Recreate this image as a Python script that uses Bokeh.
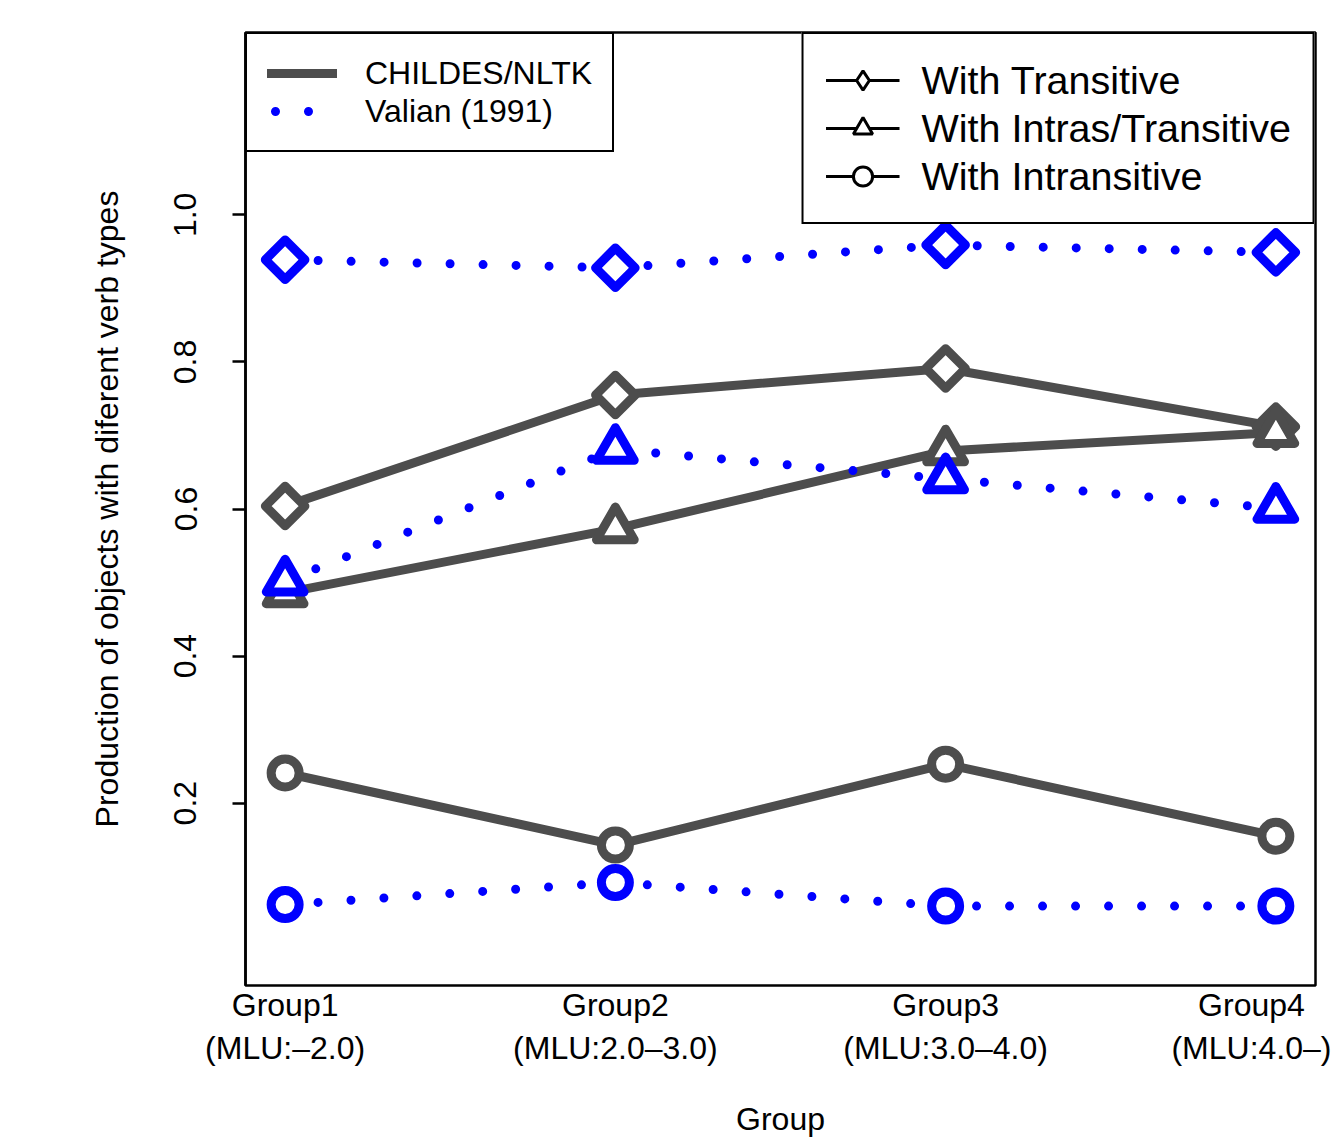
import numpy as np
from bokeh.plotting import figure
from bokeh.models import Range1d, FixedTicker, Legend, LegendItem, PrintfTickFormatter
from bokeh.embed import file_html
from bokeh.resources import INLINE

# ---- data ----
groups = ["Group1\n(MLU:\u20132.0)", "Group2\n(MLU:2.0\u20133.0)",
          "Group3\n(MLU:3.0\u20134.0)", "Group4\n(MLU:4.0\u2013)"]
group_pos = [1, 2, 3, 4]
y_ticks = [0.2, 0.4, 0.6, 0.8, 1.0]

childes_transitive = [0.604, 0.755, 0.791, 0.712]
childes_intras = [0.486, 0.573, 0.679, 0.704]
childes_intransitive = [0.241, 0.143, 0.253, 0.155]

valian_transitive = [0.939, 0.928, 0.959, 0.949]
valian_intras = [0.502, 0.681, 0.641, 0.601]
valian_intransitive = [0.062, 0.092, 0.060, 0.060]

source_labels = ["CHILDES/NLTK", "Valian (1991)"]
type_labels = ["With Transitive", "With Intras/Transitive", "With Intransitive"]

GRAY = "#4D4D4D"
BLUE = "#0000FF"
FONT = "Liberation Sans"
LW = 9

p = figure(width=1331, height=1139, output_backend="svg", toolbar_location=None,
           x_range=Range1d(0.88, 4.12), y_range=Range1d(-0.048, 1.248),
           min_border_left=245, min_border_top=32, min_border_right=16,
           min_border_bottom=154)
p.grid.visible = False
p.background_fill_color = "white"
p.border_fill_color = "white"
p.outline_line_color = "black"
p.outline_line_width = 2.5
p.outline_line_alpha = 1

# x axis
xa = p.xaxis[0]
xa.ticker = FixedTicker(ticks=group_pos)
xa.major_label_overrides = {gp: g for gp, g in zip(group_pos, groups)}
xa.major_tick_in = 0
xa.major_tick_out = 0
xa.minor_tick_line_color = None
xa.axis_line_color = None
xa.major_label_standoff = 1
xa.major_label_text_font = FONT
xa.major_label_text_font_size = "32px"
xa.major_label_text_color = "black"
xa.axis_label = "Group"
xa.axis_label_text_font = FONT
xa.axis_label_text_font_size = "32px"
xa.axis_label_text_font_style = "normal"
xa.axis_label_text_color = "black"
xa.axis_label_standoff = 32

# y axis
ya = p.yaxis[0]
ya.ticker = FixedTicker(ticks=y_ticks)
ya.formatter = PrintfTickFormatter(format="%.1f")
ya.major_label_orientation = "vertical"
ya.major_tick_in = 0
ya.major_tick_out = 13
ya.major_tick_line_width = 2.5
ya.major_tick_line_color = "black"
ya.minor_tick_line_color = None
ya.axis_line_color = "black"
ya.axis_line_width = 2.5
ya.major_label_standoff = 36
ya.major_label_text_font = FONT
ya.major_label_text_font_size = "32px"
ya.major_label_text_color = "black"
ya.axis_label = "Production of objects with diferent verb types"
ya.axis_label_text_font = FONT
ya.axis_label_text_font_size = "32px"
ya.axis_label_text_font_style = "normal"
ya.axis_label_text_color = "black"
ya.axis_label_standoff = 47

markers = [("square", np.pi / 4, 28), ("triangle", 0.0, 37.7), ("circle", 0.0, 28)]
legend_markers = ["diamond", "triangle", "circle"]
childes_series = [childes_transitive, childes_intras, childes_intransitive]
valian_series = [valian_transitive, valian_intras, valian_intransitive]

for vals, (mk, ang, sz) in zip(childes_series, markers):
    p.line(group_pos, vals, line_color=GRAY, line_width=LW,
           line_join="round", line_cap="round")
    p.scatter(group_pos, vals, marker=mk, angle=ang, size=sz, line_color=GRAY,
              line_width=LW, fill_color="white", line_join="round")

for vals, (mk, ang, sz) in zip(valian_series, markers):
    p.line(group_pos, vals, line_color=BLUE, line_width=LW,
           line_dash="0 33", line_cap="round", line_join="round")
    p.scatter(group_pos, vals, marker=mk, angle=ang, size=sz, line_color=BLUE,
              line_width=LW, fill_color="white", line_join="round")

# legend-only renderers, hidden from the plot area
src_gray = p.line(group_pos, childes_series[0], line_color=GRAY, line_width=LW,
                  line_cap="round", visible=False)
src_blue = p.line(group_pos, valian_series[0], line_color=BLUE, line_width=LW,
                  line_dash="0 33", line_dash_offset=25, line_cap="round",
                  visible=False)

type_items = []
for lab, vals, mk in zip(type_labels, childes_series, legend_markers):
    lr = p.line(group_pos, vals, line_color="black", line_width=3, visible=False)
    sr = p.scatter(group_pos, vals, marker=mk, size=20, line_color="black",
                   line_width=3, fill_color="white", visible=False)
    type_items.append(LegendItem(label=lab, renderers=[lr, sr]))

leg1 = Legend(items=[LegendItem(label=source_labels[0], renderers=[src_gray]),
                     LegendItem(label=source_labels[1], renderers=[src_blue])],
              location="top_left", orientation="vertical", padding=20, margin=0,
              spacing=0, glyph_width=70, glyph_height=38, label_height=38,
              label_standoff=28, label_text_font=FONT, label_text_font_size="32px",
              label_text_color="black", border_line_color="black",
              border_line_width=2.5, border_line_alpha=1,
              background_fill_color="white", background_fill_alpha=1,
              inactive_fill_alpha=0)
p.add_layout(leg1)

leg2 = Legend(items=type_items, location="top_right", orientation="vertical",
              padding=22, margin=0, spacing=0, glyph_width=74, glyph_height=48,
              label_height=48, label_standoff=22, label_text_font=FONT,
              label_text_font_size="39.5px", label_text_color="black",
              border_line_color="black", border_line_width=2.5, border_line_alpha=1,
              background_fill_color="white", background_fill_alpha=1,
              inactive_fill_alpha=0)
p.add_layout(leg2)

open("out.html", "w").write(file_html(p, INLINE))
